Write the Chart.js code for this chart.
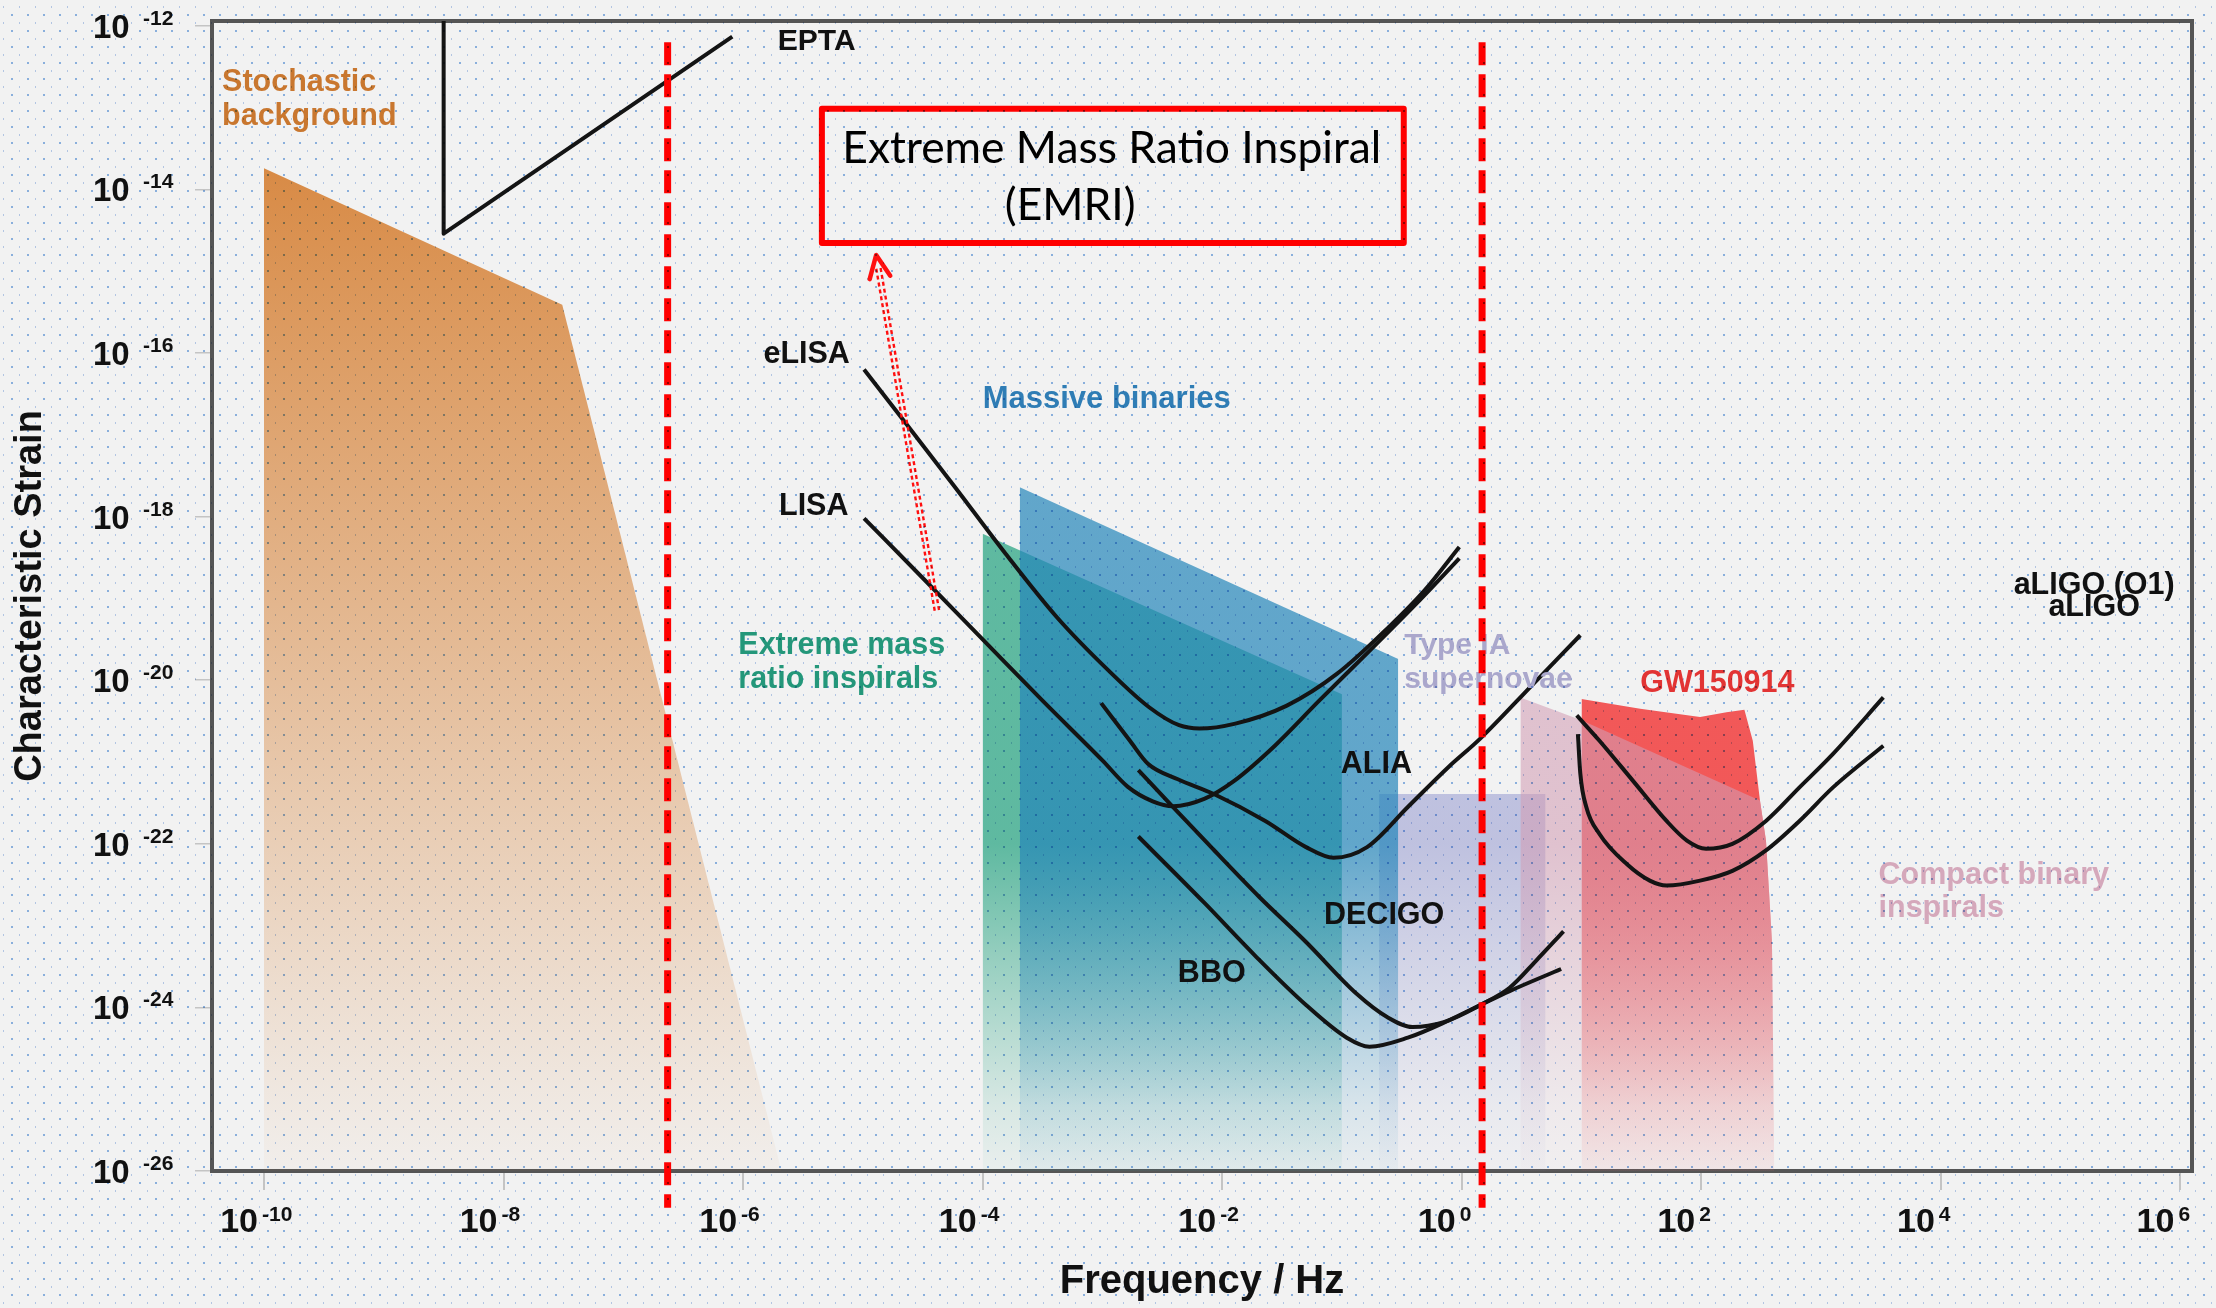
<!DOCTYPE html>
<html lang="en">
<head>
<meta charset="utf-8">
<title>Gravitational wave spectrum</title>
<script src="https://cdn.jsdelivr.net/npm/chart.js@4.4.1/dist/chart.umd.min.js"></script>
<style>
  html, body { margin: 0; padding: 0; background: #f2f2f2; overflow: hidden; }
  canvas { display: block; }
</style>
</head>
<body>
<canvas id="gw" width="2216" height="1308"></canvas>
<script>
// Every value is a base-10 exponent: frequency in Hz, characteristic strain h_c.

const freqTickExp   = [-10, -8, -6, -4, -2, 0, 2, 4, 6];
const strainTickExp = [-12, -14, -16, -18, -20, -22, -24, -26];

// Detector sensitivity curves
const eptaFreq   = [-8.50, -8.50, -6.09];
const eptaStrain = [-11.94, -14.54, -12.13];

const elisaFreq   = [-4.99, -4.64, -4.23, -3.81, -3.38, -2.95, -2.61, -2.36, -2.19, -1.89, -1.46, -1.04, -0.61, -0.31, -0.02];
const elisaStrain = [-16.20, -16.86, -17.64, -18.45, -19.23, -19.88, -20.33, -20.55, -20.59, -20.53, -20.31, -19.92, -19.35, -18.90, -18.37];

const lisaFreq   = [-4.99, -4.50, -4.00, -3.50, -3.00, -2.79, -2.58, -2.41, -2.15, -1.90, -1.56, -1.19, -0.77, -0.35, -0.02];
const lisaStrain = [-18.02, -18.75, -19.50, -20.25, -20.98, -21.30, -21.48, -21.54, -21.45, -21.23, -20.80, -20.25, -19.64, -19.02, -18.51];

const aliaFreq   = [-3.01, -2.77, -2.62, -2.37, -2.07, -1.64, -1.30, -1.07, -0.79, -0.45, -0.11, 0.15, 0.60, 0.99];
const aliaStrain = [-20.28, -20.74, -21.02, -21.21, -21.39, -21.72, -22.04, -22.17, -22.04, -21.55, -21.06, -20.72, -20.04, -19.45];

const decigoFreq   = [-2.70, -2.41, -2.08, -1.69, -1.30, -0.88, -0.62, -0.41, -0.15, 0.17, 0.40, 0.62, 0.85];
const decigoStrain = [-21.10, -21.55, -22.06, -22.65, -23.20, -23.83, -24.12, -24.24, -24.18, -23.96, -23.76, -23.43, -23.07];

const bboFreq   = [-2.70, -2.15, -1.73, -1.30, -0.96, -0.77, -0.45, -0.11, 0.17, 0.40, 0.83];
const bboStrain = [-21.91, -22.72, -23.36, -23.97, -24.37, -24.48, -24.37, -24.16, -23.96, -23.80, -23.53];

const aligoO1Freq   = [0.96, 1.15, 1.43, 1.71, 1.88, 2.04, 2.26, 2.54, 2.82, 3.10, 3.52];
const aligoO1Strain = [-20.43, -20.74, -21.23, -21.72, -21.96, -22.06, -22.00, -21.72, -21.31, -20.90, -20.21];

const aligoFreq   = [0.97, 0.99, 1.04, 1.15, 1.38, 1.57, 1.71, 1.99, 2.26, 2.54, 2.82, 3.10, 3.52];
const aligoStrain = [-20.66, -21.14, -21.55, -21.88, -22.25, -22.45, -22.51, -22.45, -22.33, -22.08, -21.72, -21.31, -20.80];

// Source regions: upper edge of each band, filled down to the axis floor
const stochasticFreq   = [-10.00, -7.51, -5.68];
const stochasticStrain = [-13.74, -15.41, -26.00];
const emriFreq   = [-4.00, -1.00];
const emriStrain = [-18.21, -20.17];
const massiveFreq   = [-3.69, -0.53];
const massiveStrain = [-17.64, -19.74];
const supernovaFreq   = [-0.69, 0.70];
const supernovaStrain = [-21.39, -21.39];
const gw150914Freq   = [1.00, 1.49, 1.99, 2.21, 2.36, 2.43, 2.49, 2.54, 2.59, 2.61];
const gw150914Strain = [-20.23, -20.35, -20.45, -20.39, -20.36, -20.74, -21.47, -21.96, -23.18, -26.00];
const compactFreq   = [0.49, 1.00, 2.49, 2.54, 2.59, 2.61];
const compactStrain = [-20.21, -20.49, -21.47, -21.96, -23.18, -26.00];

// Frequency limits of the EMRI band (dashed guides) and their vertical extent
const emriBandFreq = [-6.63, 0.17];
const guideStrain  = [-12.20, -26.45];

// ---------------------------------------------------------------------------
const AXIS = { xMin: -10.434, xMax: 6.097, yMin: -26.0, yMax: -11.94 };
const LABEL_FONT = '"Liberation Sans", Arial, Helvetica, sans-serif';

// Text annotations, anchored in the same exponent space as the data
const notes = [
  { text: 'EPTA', f: -5.71, h: -12.29, color: '#111111', size: 30 },
  { text: 'Stochastic', f: -10.35, h: -12.80, color: '#c9772f', size: 30.5 },
  { text: 'background', f: -10.35, h: -13.21, color: '#c9772f', size: 30.5 },
  { text: 'eLISA', f: -5.83, h: -16.12, color: '#111111', size: 30.5 },
  { text: 'LISA', f: -5.70, h: -17.98, color: '#111111', size: 30.5 },
  { text: 'Massive binaries', f: -4.00, h: -16.67, color: '#2f7db5', size: 31 },
  { text: 'Extreme mass', f: -6.04, h: -19.68, color: '#24977a', size: 30.5 },
  { text: 'ratio inspirals', f: -6.04, h: -20.09, color: '#24977a', size: 30.5 },
  { text: 'Type IA', f: -0.48, h: -19.68, color: '#aaa7cc', size: 30 },
  { text: 'supernovae', f: -0.48, h: -20.09, color: '#aaa7cc', size: 30 },
  { text: 'GW150914', f: 1.49, h: -20.14, color: '#e23434', size: 30.5 },
  { text: 'ALIA', f: -1.01, h: -21.13, color: '#111111', size: 30.5 },
  { text: 'DECIGO', f: -1.15, h: -22.98, color: '#111111', size: 30.5 },
  { text: 'BBO', f: -2.37, h: -23.69, color: '#111111', size: 30.5 },
  { text: 'Compact binary', f: 3.48, h: -22.49, color: '#d5a8bb', size: 30.5 },
  { text: 'inspirals', f: 3.48, h: -22.89, color: '#d5a8bb', size: 30.5 },
  { text: 'aLIGO (O1)', f: 5.28, h: -18.94, color: '#111111', size: 30.5, align: 'center' },
  { text: 'aLIGO', f: 5.28, h: -19.21, color: '#111111', size: 30.5, align: 'center' }
];

// Callout box and arrow, same coordinate space
const callout = {
  box: { left: -5.342, right: -0.484, top: -13.014, bottom: -14.654 },
  line1: { text: 'Extreme Mass Ratio Inspiral', f: -5.172, h: -13.674, width: 539 },
  line2: { text: '(EMRI)', f: -3.815, h: -14.372 },
  arrow: { tailF: -4.382, tailH: -19.146, tipF: -4.889, tipH: -14.801 }
};

const pts = (f, h) => f.map((v, i) => ({ x: 10 ** v, y: 10 ** h[i] }));

// Vertical fade used by the shaded source regions
function fade(chart, rgb, stops) {
  const area = chart.chartArea;
  const ys = chart.scales && chart.scales.y;
  if (!area || !ys) return `rgba(${rgb},${stops[0][1]})`;
  const g = chart.ctx.createLinearGradient(0, area.top, 0, area.bottom);
  for (const [e, a] of stops) {
    const p = (ys.getPixelForValue(10 ** e) - area.top) / (area.bottom - area.top);
    g.addColorStop(Math.min(1, Math.max(0, p)), `rgba(${rgb},${a})`);
  }
  return g;
}
const bandFade = (rgb, a) => c => fade(c.chart, rgb,
  [[-12, a], [-22.0, a], [-23.5, a * 0.6], [-25.2, a * 0.18], [-26, a * 0.06]]);

const region = (label, f, h, bg, order) => ({
  label, data: pts(f, h), showLine: true, pointRadius: 0, borderWidth: 0,
  borderColor: 'rgba(0,0,0,0)', fill: 'start', tension: 0, backgroundColor: bg, order
});
const curve = (label, f, h, straight) => ({
  label, data: pts(f, h), showLine: true, pointRadius: 0, borderWidth: 4,
  borderColor: '#141414', fill: false, tension: straight ? 0 : 0.4,
  cubicInterpolationMode: straight ? 'default' : 'monotone', borderJoinStyle: 'round', order: 2
});
const guide = (label, fExp) => ({
  label, data: pts([fExp, fExp], guideStrain), showLine: true, pointRadius: 0,
  borderWidth: 7, borderColor: '#ff0000', borderDash: [23, 9], fill: false,
  tension: 0, clip: false, order: 1
});

const datasets = [
  region('Stochastic background', stochasticFreq, stochasticStrain,
    c => fade(c.chart, '215,134,62', [[-13.7, 0.96], [-18.5, 0.6], [-22, 0.33], [-25, 0.1], [-26, 0.04]]), 10),
  region('Extreme mass ratio inspirals', emriFreq, emriStrain, bandFade('58,171,140', 0.8), 9),
  region('Type IA supernovae', supernovaFreq, supernovaStrain, bandFade('140,145,205', 0.5), 8),
  region('Massive binaries', massiveFreq, massiveStrain, bandFade('36,134,186', 0.7), 7),
  region('GW150914', gw150914Freq, gw150914Strain, bandFade('242,80,80', 0.95), 6),
  region('Compact binary inspirals', compactFreq, compactStrain, bandFade('210,157,180', 0.57), 5),
  curve('EPTA', eptaFreq, eptaStrain, true),
  curve('eLISA', elisaFreq, elisaStrain),
  curve('LISA', lisaFreq, lisaStrain),
  curve('ALIA', aliaFreq, aliaStrain),
  curve('DECIGO', decigoFreq, decigoStrain),
  curve('BBO', bboFreq, bboStrain),
  curve('aLIGO (O1)', aligoO1Freq, aligoO1Strain),
  curve('aLIGO', aligoFreq, aligoStrain),
  guide('EMRI band low', emriBandFreq[0]),
  guide('EMRI band high', emriBandFreq[1])
];

// Dot texture laid over the whole figure
const dotTile = (() => {
  const t = document.createElement('canvas');
  t.width = 16; t.height = 16;
  const g = t.getContext('2d');
  g.fillStyle = '#ffffff'; g.fillRect(0, 0, 16, 16);
  g.fillStyle = 'rgb(145,184,232)'; g.fillRect(11, 14, 2, 2);
  g.fillStyle = 'rgb(188,208,238)'; g.fillRect(3, 6, 1, 2);
  return t;
})();

function drawNotes(chart) {
  const { ctx } = chart;
  const X = f => chart.scales.x.getPixelForValue(10 ** f);
  const Y = h => chart.scales.y.getPixelForValue(10 ** h);
  ctx.save();
  ctx.textBaseline = 'alphabetic';
  for (const n of notes) {
    ctx.font = `bold ${n.size}px ${LABEL_FONT}`;
    ctx.fillStyle = n.color;
    ctx.textAlign = n.align || 'left';
    ctx.fillText(n.text, X(n.f), Y(n.h));
  }

  // callout arrow: doubled dotted shaft with an open head
  const a = callout.arrow;
  const tx = X(a.tailF), ty = Y(a.tailH), hx = X(a.tipF), hy = Y(a.tipH);
  const len = Math.hypot(hx - tx, hy - ty);
  const ux = (hx - tx) / len, uy = (hy - ty) / len;
  const nx = -uy, ny = ux;
  ctx.strokeStyle = '#ff1010';
  ctx.lineWidth = 2.4;
  ctx.setLineDash([4, 3]);
  for (const s of [-2.2, 2.2]) {
    ctx.beginPath();
    ctx.moveTo(tx + nx * s, ty + ny * s);
    ctx.lineTo(hx - ux * 12 + nx * s, hy - uy * 12 + ny * s);
    ctx.stroke();
  }
  ctx.setLineDash([]);
  ctx.lineWidth = 4.5;
  ctx.lineCap = 'round';
  ctx.lineJoin = 'round';
  const back = Math.atan2(-uy, -ux);
  ctx.beginPath();
  ctx.moveTo(hx + 25 * Math.cos(back - 0.43), hy + 25 * Math.sin(back - 0.43));
  ctx.lineTo(hx, hy);
  ctx.lineTo(hx + 25 * Math.cos(back + 0.43), hy + 25 * Math.sin(back + 0.43));
  ctx.stroke();

  // callout box
  const b = callout.box;
  ctx.strokeStyle = '#ff0000';
  ctx.lineWidth = 6;
  ctx.lineJoin = 'round';
  ctx.strokeRect(X(b.left), Y(b.top), X(b.right) - X(b.left), Y(b.bottom) - Y(b.top));
  ctx.fillStyle = '#000000';
  ctx.textAlign = 'left';
  ctx.font = `40px Lato, "Open Sans", sans-serif`;
  const w = ctx.measureText(callout.line1.text).width;
  const size = 40 * callout.line1.width / w;
  ctx.font = `${size.toFixed(2)}px Lato, "Open Sans", sans-serif`;
  ctx.fillText(callout.line1.text, X(callout.line1.f), Y(callout.line1.h));
  ctx.fillText(callout.line2.text, X(callout.line2.f), Y(callout.line2.h));
  ctx.restore();
}

function drawTickLabels(chart) {
  const { ctx, chartArea } = chart;
  const { x, y } = chart.scales;
  ctx.save();
  ctx.fillStyle = '#111111';
  ctx.textBaseline = 'alphabetic';
  for (const e of strainTickExp) {
    const p = y.getPixelForValue(10 ** e);
    ctx.textAlign = 'left';
    ctx.font = `bold 33px ${LABEL_FONT}`;
    ctx.fillText('10', chartArea.left - 119, p + 12);
    ctx.font = `bold 21px ${LABEL_FONT}`;
    ctx.fillText(String(e), chartArea.left - 69, p - 1);
  }
  for (const e of freqTickExp) {
    const p = x.getPixelForValue(10 ** e);
    ctx.font = `bold 34px ${LABEL_FONT}`;
    ctx.textAlign = 'right';
    ctx.fillText('10', p - 6, chartArea.bottom + 61);
    ctx.font = `bold 21px ${LABEL_FONT}`;
    ctx.textAlign = 'left';
    ctx.fillText(String(e), p - 2, chartArea.bottom + 50);
  }
  ctx.restore();
}

const figurePlugin = {
  id: 'figure',
  beforeDraw(chart) {
    const { ctx } = chart;
    ctx.save();
    ctx.fillStyle = '#f2f2f2';
    ctx.fillRect(0, 0, chart.width, chart.height);
    ctx.restore();
    chart.$notesDrawn = false;
  },
  beforeDatasetsDraw(chart) {
    const { ctx, chartArea: a } = chart;
    ctx.save();
    ctx.strokeStyle = '#555555';
    ctx.lineWidth = 4;
    ctx.strokeRect(a.left, a.top, a.right - a.left, a.bottom - a.top);
    ctx.restore();
  },
  beforeDatasetDraw(chart, args) {
    const ds = chart.data.datasets[args.index];
    if (!chart.$notesDrawn && ds.label.startsWith('EMRI band')) {
      drawNotes(chart);
      chart.$notesDrawn = true;
    }
  },
  afterDraw(chart) {
    drawTickLabels(chart);
    const { ctx } = chart;
    ctx.save();
    ctx.globalCompositeOperation = 'multiply';
    ctx.fillStyle = ctx.createPattern(dotTile, 'repeat');
    ctx.fillRect(0, 0, chart.width, chart.height);
    ctx.restore();
  }
};

new Chart(document.getElementById('gw'), {
  type: 'scatter',
  data: { datasets },
  options: {
    responsive: false,
    animation: false,
    events: [],
    layout: { padding: { top: 21, right: 24, left: 0, bottom: 0 } },
    plugins: { legend: { display: false }, tooltip: { enabled: false } },
    scales: {
      x: {
        type: 'logarithmic', position: 'bottom',
        min: 10 ** AXIS.xMin, max: 10 ** AXIS.xMax,
        afterBuildTicks: s => { s.ticks = freqTickExp.map(e => ({ value: 10 ** e })); },
        afterFit: s => { s.height = 137; },
        ticks: { display: false },
        grid: { drawOnChartArea: false, drawTicks: true, tickLength: 19, color: '#c4c4c4', lineWidth: 2 },
        border: { display: false },
        title: { display: true, text: 'Frequency / Hz', color: '#111111',
                 font: { family: LABEL_FONT, size: 40, weight: 'bold' }, padding: { top: 0, bottom: 2 } }
      },
      y: {
        type: 'logarithmic', position: 'left',
        min: 10 ** AXIS.yMin, max: 10 ** AXIS.yMax,
        afterBuildTicks: s => { s.ticks = strainTickExp.map(e => ({ value: 10 ** e })); },
        afterFit: s => { s.width = 212; },
        ticks: { display: false },
        grid: { drawOnChartArea: false, drawTicks: true, tickLength: 17, color: '#c4c4c4', lineWidth: 1.5 },
        border: { display: false },
        title: { display: true, text: 'Characteristic Strain', color: '#111111',
                 font: { family: LABEL_FONT, size: 38, weight: 'bold' }, padding: { top: 8, bottom: 0 } }
      }
    }
  },
  plugins: [figurePlugin]
});
</script>
</body>
</html>
